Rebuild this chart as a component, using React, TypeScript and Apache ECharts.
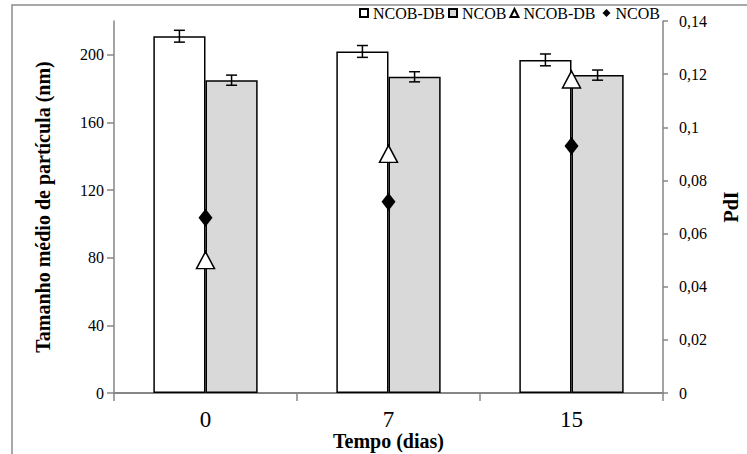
import React, { useEffect, useRef } from "react";
import * as echarts from "echarts";

const categories = ["0", "7", "15"];
const sizeNcobDb = [211, 202, 197];
const sizeNcobDbErr = [3.5, 3.5, 3.5];
const sizeNcob = [185, 187, 188];
const sizeNcobErr = [3, 3, 3];
const pdiNcobDb = [0.05, 0.09, 0.118];
const pdiNcob = [0.066, 0.072, 0.093];
const leftTicks = [0, 40, 80, 120, 160, 200];

const FONT = "'Liberation Serif', 'Times New Roman', serif";

export default function App() {
  const ref = useRef<HTMLDivElement>(null);
  useEffect(() => {
    const chart = echarts.init(ref.current!, null, { renderer: "svg" });
    const errData: number[][] = [];
    categories.forEach((_, i) => {
      errData.push([i, sizeNcobDb[i], sizeNcobDbErr[i], -1]);
      errData.push([i, sizeNcob[i], sizeNcobErr[i], 1]);
    });
    const option: any = {
      animation: false,
      backgroundColor: "#fff",
      textStyle: { fontFamily: FONT },
      graphic: [
        {
          type: "rect",
          shape: { x: 12, y: 5, width: 900, height: 600 },
          style: { fill: "none", stroke: "#8c8c8c", lineWidth: 1.5 },
          silent: true,
          z: 100,
        },
      ],
      legend: {
        left: 354,
        top: 0,
        itemWidth: 8,
        itemHeight: 8,
        itemGap: 3,
        textStyle: { fontFamily: FONT, fontSize: 16, color: "#000" },
        data: [
          { name: "NCOB-DB", icon: "rect" },
          { name: "NCOB", icon: "rect" },
          { name: "NCOB-DB ", icon: "triangle" },
          { name: "NCOB ", icon: "diamond" },
        ],
      },
      grid: { left: 114, right: 84, top: 21, bottom: 61, outerBoundsMode: "none", containLabel: false },
      xAxis: {
        type: "category",
        data: categories,
        axisLine: { lineStyle: { color: "#868686", width: 2 } },
        axisTick: { show: true, length: 8, lineStyle: { color: "#868686", width: 1.5 } },
        axisLabel: { fontFamily: FONT, fontSize: 23, color: "#000", margin: 16, lineHeight: 21 },
        name: "Tempo (dias)",
        nameLocation: "middle",
        nameGap: 38,
        nameMoveOverlap: false,
        nameTextStyle: { fontFamily: FONT, fontSize: 20, lineHeight: 20, fontWeight: "bold", color: "#000" },
      },
      yAxis: [
        {
          type: "value",
          min: 0,
          max: 220,
          interval: 40,
          splitLine: { show: false },
          axisLine: { show: true, lineStyle: { color: "#868686", width: 1.5 } },
          axisTick: { show: true, length: 7, customValues: leftTicks, lineStyle: { color: "#868686", width: 1.5 } },
          axisLabel: { fontFamily: FONT, fontSize: 16, color: "#000", margin: 10, customValues: leftTicks },
          name: "Tamanho médio de partícula (nm)",
          nameLocation: "middle",
          nameGap: 61,
          nameMoveOverlap: false,
          nameTextStyle: { fontFamily: FONT, fontSize: 20, lineHeight: 20, fontWeight: "bold", color: "#000" },
        },
        {
          type: "value",
          position: "right",
          min: 0,
          max: 0.14,
          interval: 0.02,
          splitLine: { show: false },
          axisLine: { show: true, lineStyle: { color: "#868686", width: 1.5 } },
          axisTick: { show: true, length: 5, lineStyle: { color: "#868686", width: 1.5 } },
          axisLabel: {
            fontFamily: FONT,
            fontSize: 16,
            color: "#000",
            margin: 16,
            formatter: (v: number) => String(Math.round(v * 100) / 100).replace(".", ","),
          },
          name: "PdI",
          nameLocation: "middle",
          nameGap: 58,
          nameMoveOverlap: false,
          nameTextStyle: { fontFamily: FONT, fontSize: 20, lineHeight: 20, fontWeight: "bold", color: "#000" },
        },
      ],
      series: [
        {
          name: "NCOB-DB",
          type: "bar",
          data: sizeNcobDb,
          barGap: "0%",
          barCategoryGap: "43%",
          itemStyle: { color: "#ffffff", borderColor: "#000", borderWidth: 1.5 },
        },
        {
          name: "NCOB",
          type: "bar",
          data: sizeNcob,
          barGap: "0%",
          barCategoryGap: "43%",
          itemStyle: { color: "#d9d9d9", borderColor: "#000", borderWidth: 1.5 },
        },
        {
          name: "errors",
          type: "custom",
          data: errData,
          z: 5,
          renderItem: (params: any, api: any) => {
            const cat = api.value(0);
            const val = api.value(1);
            const err = api.value(2);
            const side = api.value(3);
            const band = api.size([1, 0])[0];
            const off = side * band * 0.57 / 4;
            const hi = api.coord([cat, val + err]);
            const lo = api.coord([cat, val - err]);
            const x = hi[0] + off;
            const cap = 5.5;
            const st = { stroke: "#000", lineWidth: 1.5 };
            return {
              type: "group",
              children: [
                { type: "line", shape: { x1: x, y1: hi[1], x2: x, y2: lo[1] }, style: st },
                { type: "line", shape: { x1: x - cap, y1: hi[1], x2: x + cap, y2: hi[1] }, style: st },
                { type: "line", shape: { x1: x - cap, y1: lo[1], x2: x + cap, y2: lo[1] }, style: st },
              ],
            };
          },
        },
        {
          name: "NCOB-DB ",
          type: "scatter",
          yAxisIndex: 1,
          data: pdiNcobDb,
          symbol: "triangle",
          symbolSize: [18, 17],
          z: 6,
          itemStyle: { color: "#ffffff", borderColor: "#000", borderWidth: 1.5, opacity: 1 },
        },
        {
          name: "NCOB ",
          type: "scatter",
          yAxisIndex: 1,
          data: pdiNcob,
          symbol: "diamond",
          symbolSize: [14, 18],
          z: 6,
          itemStyle: { color: "#000000", opacity: 1 },
        },
      ],
    };
    chart.setOption(option);
    return () => chart.dispose();
  }, []);
  return (
    <div
      ref={ref}
      style={{ position: "fixed", left: 0, top: 0, width: 747, height: 454 }}
    />
  );
}
